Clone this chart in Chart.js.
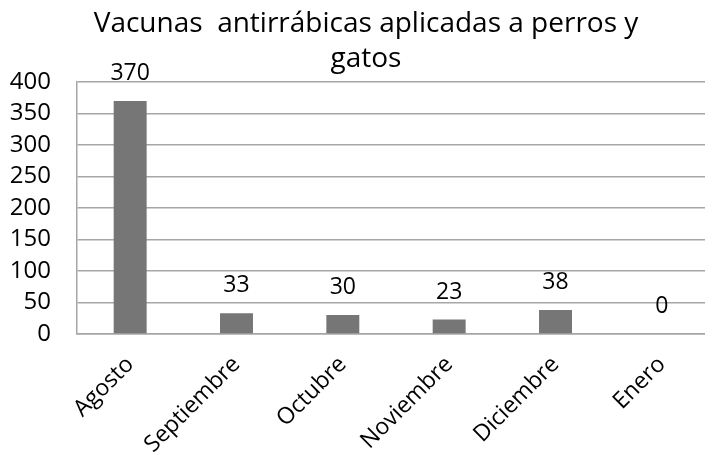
<!DOCTYPE html>
<html>
<head>
<meta charset="utf-8">
<script src="https://cdn.jsdelivr.net/npm/chart.js@4/dist/chart.umd.min.js"></script>
<style>
  html, body { margin: 0; padding: 0; background: #fff; overflow: hidden; }
  #wrap { width: 720px; height: 460px; }
</style>
</head>
<body>
<div id="wrap"><canvas id="chart" width="720" height="460"></canvas></div>
<script>
const MONTHS = ["Agosto", "Septiembre", "Octubre", "Noviembre", "Diciembre", "Enero"];
const VACUNAS = [370, 33, 30, 23, 38, 0];
const TITLE_LINES = ["Vacunas  antirrábicas aplicadas a perros y", "gatos"];
const FONT = "'Open Sans', sans-serif";

// ====== Title drawn in two wrapped lines ======
const titlePlugin = {
  id: "wrappedTitle",
  afterDraw(chart) {
    const c = chart.ctx;
    c.save();
    c.font = "28px " + FONT;
    c.fillStyle = "#000";
    c.textAlign = "center";
    c.textBaseline = "alphabetic";
    c.fillText(TITLE_LINES[0], 366, 32);
    c.fillText(TITLE_LINES[1], 366, 67);
    c.restore();
  }
};

// ====== Value labels above bars ======
const valueLabels = {
  id: "valueLabels",
  afterDatasetsDraw(chart) {
    const c = chart.ctx;
    const meta = chart.getDatasetMeta(0);
    c.save();
    c.font = "23px " + FONT;
    c.fillStyle = "#000";
    c.textAlign = "center";
    c.textBaseline = "bottom";
    meta.data.forEach((bar, i) => {
      c.fillText(String(VACUNAS[i]), bar.x, bar.y - 16);
    });
    c.restore();
  }
};

const ctx = document.getElementById("chart").getContext("2d");
new Chart(ctx, {
  type: "bar",
  data: {
    labels: MONTHS,
    datasets: [{
      data: VACUNAS,
      backgroundColor: "#767676",
      categoryPercentage: 1,
      barPercentage: 0.31
    }]
  },
  options: {
    responsive: false,
    animation: false,
    layout: { padding: { top: 82, right: 5, left: 0, bottom: 0 } },
    plugins: { legend: { display: false }, tooltip: { enabled: false } },
    scales: {
      x: {
        grid: { display: false, drawTicks: false },
        border: { color: "#a6a6a6", width: 1.5 },
        ticks: {
          color: "#000",
          font: { family: FONT, size: 23 },
          maxRotation: 45,
          minRotation: 45,
          autoSkip: false,
          padding: 17
        },
        afterFit(scale) { scale.height = 126; }
      },
      y: {
        min: 0,
        max: 400,
        grid: { color: "#a6a6a6", lineWidth: 1.5, drawTicks: false },
        border: { color: "#a6a6a6", width: 1.5 },
        ticks: {
          stepSize: 50,
          autoSkip: false,
          color: "#000",
          font: { family: FONT, size: 24 },
          padding: 26
        },
        afterFit(scale) { scale.width = 77; }
      }
    }
  },
  plugins: [titlePlugin, valueLabels]
});
</script>
</body>
</html>
